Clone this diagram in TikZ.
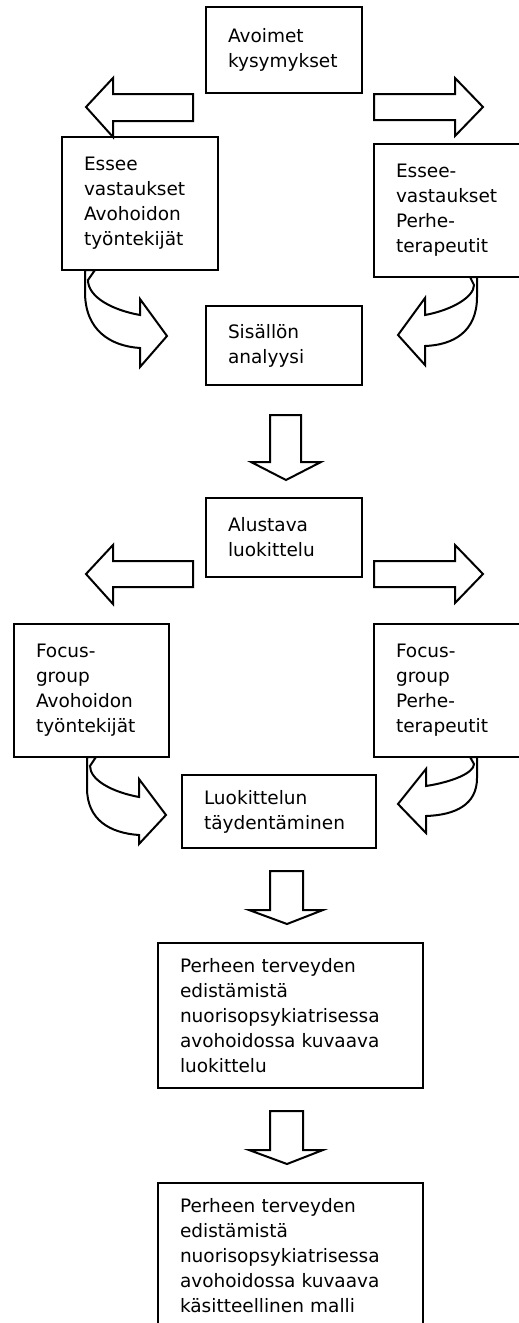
\documentclass[tikz,border=0pt]{standalone}
\usepackage{fontspec}
\setmainfont{DejaVu Sans}
\usepackage{tikz}
\usetikzlibrary{positioning}

\tikzset{
  flowbox/.style={draw, line width=2.2, align=left, inner xsep=22pt, inner ysep=0pt,
    font=\fontsize{18.5}{25}\selectfont},
  blockarrow/.style={draw, line width=2.0, fill=white, line join=miter},
}

\begin{document}
\begin{tikzpicture}[x=1pt, y=-1pt]
  \useasboundingbox (0,0) rectangle (519,1323);
  \node[flowbox, text width=112pt, minimum height=86pt] (avoimet) at (284,50) {Avoimet\\kysymykset};
  \node[flowbox, text width=112pt, minimum height=133pt] (esseeAvo) at (140,203.5) {Essee\\vastaukset\\Avohoidon\\työntekijät};
  \node[flowbox, text width=112pt, minimum height=133pt] (esseePerhe) at (452,210.5) {Essee-\\vastaukset\\Perhe-\\terapeutit};
  \node[flowbox, text width=112pt, minimum height=79pt] (sisallon) at (284,345.5) {Sisällön\\analyysi};
  \node[flowbox, text width=112pt, minimum height=79pt] (alustava) at (284,537.5) {Alustava\\luokittelu};
  \node[flowbox, text width=111pt, minimum height=133pt] (focusAvo) at (91.5,690.5) {Focus-\\group\\Avohoidon\\työntekijät};
  \node[flowbox, text width=112pt, minimum height=133pt] (focusPerhe) at (452,690.5) {Focus-\\group\\Perhe-\\terapeutit};
  \node[flowbox, text width=150pt, minimum height=73pt] (taydentaminen) at (279,811.5) {Luokittelun\\täydentäminen};
  \node[flowbox, text width=221pt, minimum height=145pt] (luokittelu) at (290.5,1015.5) {Perheen terveyden\\edistämistä\\nuorisopsykiatrisessa\\avohoidossa kuvaava\\luokittelu};
  \node[flowbox, text width=221pt, minimum height=145pt] (malli) at (290.5,1255.5) {Perheen terveyden\\edistämistä\\nuorisopsykiatrisessa\\avohoidossa kuvaava\\käsitteellinen malli};
  \draw[blockarrow] (193,94) -- (113,94) -- (113,78) -- (86,107) -- (113,137) -- (113,121) -- (193,121) -- cycle;
  \draw[blockarrow] (374,94) -- (455,94) -- (455,78) -- (483,107) -- (455,136) -- (455,120) -- (374,120) -- cycle;
  \draw[blockarrow] (85,270) -- (85,292) .. controls (85,330) and (110,346) .. (140,348) -- (140,367) -- (167,336) -- (140,299) -- (140,315) .. controls (112,310) and (88,297) .. (88,280) -- (95,270) -- cycle;
  \draw[blockarrow] (477,277) -- (477,297) .. controls (477,332) and (453,345) .. (425,346) -- (425,365) -- (398,335) -- (425,298) -- (425,315) .. controls (452,310) and (474,297) .. (474,285) -- (470,277) -- cycle;
  \draw[blockarrow] (270,415) -- (301,415) -- (301,462) -- (321,462) -- (286,480) -- (251,462) -- (270,462) -- cycle;
  \draw[blockarrow] (193,561) -- (113,561) -- (113,545) -- (86,574) -- (113,604) -- (113,587) -- (193,587) -- cycle;
  \draw[blockarrow] (374,561) -- (455,561) -- (455,545) -- (483,574) -- (455,603) -- (455,587) -- (374,587) -- cycle;
  \draw[blockarrow] (87,757) -- (87,788) .. controls (87,820) and (110,833) .. (139,835) -- (139,844) -- (166,815) -- (139,779) -- (139,797) .. controls (112,792) and (90,780) .. (90,766) -- (96,757) -- cycle;
  \draw[blockarrow] (477,757) -- (477,778) .. controls (477,805) and (455,815) .. (426,816) -- (426,833) -- (398,804) -- (426,769) -- (426,786) .. controls (452,782) and (474,773) .. (474,764) -- (470,757) -- cycle;
  \draw[blockarrow] (270,871) -- (303,871) -- (303,910) -- (323,910) -- (287,924) -- (249,910) -- (270,910) -- cycle;
  \draw[blockarrow] (270,1111) -- (303,1111) -- (303,1150) -- (323,1150) -- (287,1164) -- (249,1150) -- (270,1150) -- cycle;
\end{tikzpicture}
\end{document}
